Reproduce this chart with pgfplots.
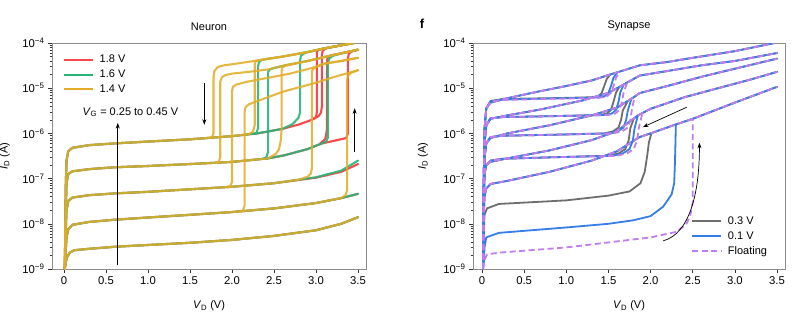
\documentclass[border=0pt]{standalone}
\usepackage{pgfplots}
\pgfplotsset{compat=1.18}
\usepackage{pgfplotstable}
\usepackage{fontspec}
\setmainfont{Liberation Sans}
\usetikzlibrary{arrows.meta}

\definecolor{cred}{RGB}{252,72,72}
\definecolor{cgreen}{RGB}{40,180,120}
\definecolor{cgold}{RGB}{225,172,38}
\definecolor{cgray}{RGB}{110,110,110}
\definecolor{cblue}{RGB}{55,125,230}
\definecolor{cpurple}{RGB}{192,125,235}

% ---------- Neuron panel: shared OFF branches ----------
\pgfplotstableread{
x y
0.01 1.0e-9
0.02 1.4e-9
0.04 1.9e-9
0.07 2.3e-9
0.12 2.6e-9
0.3 2.8e-9
0.6 3.1e-9
1.0 3.4e-9
1.5 3.8e-9
2.0 4.4e-9
2.5 5.4e-9
3.0 7.2e-9
3.3 1.0e-8
3.5 1.4e-8
}\offA
\pgfplotstableread{
x y
0.01 1.0e-9
0.02 2.5e-9
0.03 5.0e-9
0.05 7.6e-9
0.1 9.5e-9
0.3 1.1e-8
0.6 1.23e-8
1.0 1.38e-8
1.5 1.58e-8
2.0 1.82e-8
2.5 2.19e-8
3.0 2.88e-8
3.3 3.7e-8
3.5 4.6e-8
}\offB
\pgfplotstableread{
x y
0.01 1.0e-9
0.02 6.3e-9
0.03 2.0e-8
0.05 3.2e-8
0.1 3.8e-8
0.3 4.3e-8
0.6 4.7e-8
1.0 5.1e-8
1.5 5.8e-8
2.0 6.6e-8
2.5 7.9e-8
3.0 1.05e-7
3.3 1.41e-7
3.5 2.1e-7
}\offCred
\pgfplotstableread{
x y
0.01 1.0e-9
0.02 6.3e-9
0.03 2.0e-8
0.05 3.2e-8
0.1 3.8e-8
0.3 4.3e-8
0.6 4.7e-8
1.0 5.1e-8
1.5 5.8e-8
2.0 6.6e-8
2.5 7.9e-8
3.0 1.07e-7
3.3 1.5e-7
3.5 2.5e-7
}\offCgreen

% ---------- Synapse panel: ON / backward branches ----------
\pgfplotstableread{
x y
0.012 1.0e-9
0.02 1.0e-7
0.03 1.26e-6
0.05 3.55e-6
0.1 4.8e-6
0.3 6.0e-6
0.65 8.3e-6
1.0 1.12e-5
1.3 1.48e-5
1.5 1.95e-5
1.87 3.2e-5
2.2 3.8e-5
2.5 4.7e-5
3.0 6.6e-5
3.47 1.0e-4
}\sonA
\pgfplotstableread{
x y
0.012 1.0e-9
0.02 6.0e-8
0.03 6.0e-7
0.05 1.5e-6
0.1 2.1e-6
0.3 2.5e-6
0.7 3.4e-6
1.2 5.4e-6
1.5 7.9e-6
1.65 1.12e-5
1.87 1.9e-5
2.2 2.4e-5
2.6 3.2e-5
3.0 4.0e-5
3.5 6.0e-5
}\sonB
\pgfplotstableread{
x y
0.012 1.0e-9
0.02 4.0e-8
0.03 3.0e-7
0.05 6.0e-7
0.1 7.9e-7
0.3 1.0e-6
0.8 1.51e-6
1.3 2.5e-6
1.6 3.7e-6
1.8 6.3e-6
1.87 7.8e-6
2.2 1.12e-5
2.6 1.78e-5
3.0 2.7e-5
3.5 4.5e-5
}\sonC
\pgfplotstableread{
x y
0.012 1.0e-9
0.02 3.0e-8
0.03 1.3e-7
0.05 2.0e-7
0.1 2.35e-7
0.3 2.8e-7
0.8 4.2e-7
1.3 7.1e-7
1.6 1.12e-6
1.85 2.5e-6
2.0 3.5e-6
2.4 6.3e-6
2.8 1.0e-5
3.2 1.58e-5
3.5 2.3e-5
}\sonD
\pgfplotstableread{
x y
0.012 1.0e-9
0.02 1.5e-8
0.03 4.0e-8
0.05 6.0e-8
0.1 7.6e-8
0.3 8.9e-8
0.8 1.41e-7
1.3 2.5e-7
1.6 4.0e-7
1.87 8.3e-7
2.0 1.0e-6
2.3 1.58e-6
2.5 2.1e-6
3.0 4.8e-6
3.5 1.07e-5
}\sonE

\pgfplotsset{
  legend image code/.code={\draw[line width=2pt,#1] (0pt,0pt) -- (29pt,0pt); \path (33pt,0pt);},
  R/.style={cred, line width=2.1pt, line join=round, line cap=round, forget plot},
  G/.style={cgreen, opacity=0.9, line width=2.1pt, line join=round, line cap=round, forget plot},
  O/.style={cgold, opacity=0.85, line width=2.1pt, line join=round, line cap=round, forget plot},
  K/.style={cgray, line width=1.8pt, line join=round, line cap=round, forget plot},
  B/.style={cblue, line width=1.8pt, line join=round, line cap=round, forget plot},
  P/.style={cpurple, line width=1.8pt, dash pattern=on 6pt off 3.5pt, line join=round, forget plot},
}

\begin{document}
\begin{tikzpicture}
\useasboundingbox (0,0) rectangle (812pt,321pt);

% ======================= Neuron =======================
\begin{axis}[
    at={(52pt,52pt)}, anchor=south west,
    scale only axis, width=314pt, height=226pt,
    ymode=log, ymin=1e-9, ymax=1e-4,
    xmin=-0.143, xmax=3.595,
    xtick={0,0.5,1,1.5,2,2.5,3,3.5},
    xticklabels={0,0.5,1.0,1.5,2.0,2.5,3.0,3.5},
    ytick={1e-9,1e-8,1e-7,1e-6,1e-5,1e-4},
    yticklabels={10\textsuperscript{−9},10\textsuperscript{−8},10\textsuperscript{−7},10\textsuperscript{−6},10\textsuperscript{−5},10\textsuperscript{−4}},
    minor ytick={2e-9,3e-9,4e-9,5e-9,6e-9,7e-9,8e-9,9e-9,2e-8,3e-8,4e-8,5e-8,6e-8,7e-8,8e-8,9e-8,2e-7,3e-7,4e-7,5e-7,6e-7,7e-7,8e-7,9e-7,2e-6,3e-6,4e-6,5e-6,6e-6,7e-6,8e-6,9e-6,2e-5,3e-5,4e-5,5e-5,6e-5,7e-5,8e-5,9e-5},
    xtick pos=bottom, ytick pos=left, tick align=outside,
    major tick length=4pt, minor tick length=2.5pt,
    axis line style={black!45, line width=0.7pt},
    tick style={black!80, line width=0.5pt},
    tick label style={font=\fontsize{11.3}{12}\selectfont},
    title={Neuron},
    title style={at={(0.5,1)}, anchor=south, yshift=3pt, font=\fontsize{11}{13}\selectfont},
    xlabel={\textit{V}\textsubscript{D} (V)},
    xlabel style={at={(0.5,-0.162)}, anchor=center, font=\fontsize{11}{13}\selectfont},
    ylabel={\textit{I}\textsubscript{D} (A)},
    ylabel style={at={(-0.150,0.5)}, anchor=center, font=\fontsize{11}{13}\selectfont},
    legend cell align=left,
    legend style={draw=none, fill=none, at={(0.03,0.96)}, anchor=north west,
       font=\fontsize{11}{12}\selectfont, row sep=1.5pt, inner sep=1pt},
]
% ---- red 1.8 V ----
\addplot[R] table {\offA};
\addplot[R] table {\offB};
\addplot[R] table {\offCred};
\addplot[R] coordinates {(0.01,1e-9)(0.02,1.6e-8)(0.03,7.9e-8)(0.05,1.26e-7)(0.1,1.45e-7)(0.3,1.62e-7)(0.6,1.78e-7)(1.0,1.9e-7)(1.5,2.1e-7)(2.0,2.34e-7)(2.43,2.8e-7)(2.63,3.3e-7)(2.9,4.5e-7)(3.07,6.0e-7)(3.25,7.1e-7)(3.36,7.9e-7)(3.38,1.0e-6)(3.38,4.5e-5)(3.39,5.8e-5)(3.42,6.4e-5)(3.5,7.1e-5)};
\addplot[R] coordinates {(3.5,7.1e-5)(3.3,5.9e-5)(3.17,5.3e-5)(3.14,4.8e-5)(3.13,4.0e-5)(3.13,1.2e-6)(3.11,7.5e-7)(3.05,6.0e-7)};
\addplot[R] coordinates {(0.01,1e-9)(0.015,1e-8)(0.02,6.3e-8)(0.03,2.5e-7)(0.05,4.0e-7)(0.1,4.8e-7)(0.3,5.5e-7)(0.6,6.0e-7)(1.0,6.6e-7)(1.5,7.4e-7)(1.78,8.1e-7)(2.0,8.7e-7)(2.3,1.0e-6)(2.6,1.26e-6)(2.8,1.58e-6)(2.95,2.0e-6)(3.03,2.4e-6)(3.06,2.9e-6)(3.07,4e-6)(3.07,5.5e-5)(3.08,6.8e-5)(3.12,7.6e-5)(3.3,8.9e-5)(3.45,1.0e-4)};
\addplot[R] coordinates {(3.45,1e-4)(3.3,8.9e-5)(3.1,7.6e-5)(3.03,7.1e-5)(3.01,6.3e-5)(3.01,3e-6)(3.0,2.3e-6)(2.95,2.0e-6)};

% ---- green 1.6 V ----
\addplot[G] table {\offA};
\addplot[G] table {\offB};
\addplot[G] table {\offCgreen};
\addplot[G] coordinates {(0.01,1e-9)(0.02,1.6e-8)(0.03,7.9e-8)(0.05,1.26e-7)(0.1,1.45e-7)(0.3,1.62e-7)(0.6,1.78e-7)(1.0,1.9e-7)(1.5,2.1e-7)(2.0,2.34e-7)(2.43,2.8e-7)(2.63,3.3e-7)(2.9,4.5e-7)(3.07,6.0e-7)(3.12,6.6e-7)(3.14,8.0e-7)(3.14,3.5e-5)(3.16,4.6e-5)(3.2,5.2e-5)(3.3,5.9e-5)(3.5,7.1e-5)};
\addplot[G] coordinates {(3.5,7.1e-5)(3.3,5.9e-5)(3.1,4.9e-5)(2.9,4.0e-5)(2.63,3.2e-5)(2.5,2.8e-5)(2.45,2.6e-5)(2.43,2.3e-5)(2.43,4e-7)(2.41,3.0e-7)(2.37,2.75e-7)};
\addplot[G] coordinates {(0.01,1e-9)(0.015,1e-8)(0.02,6.3e-8)(0.03,2.5e-7)(0.05,4.0e-7)(0.1,4.8e-7)(0.3,5.5e-7)(0.6,6.0e-7)(1.0,6.6e-7)(1.5,7.4e-7)(1.78,8.1e-7)(2.0,8.7e-7)(2.3,1.0e-6)(2.6,1.26e-6)(2.72,1.6e-6)(2.79,2.2e-6)(2.81,2.9e-6)(2.81,4.0e-5)(2.82,5.2e-5)(2.86,5.9e-5)(2.9,6.3e-5)(3.1,7.6e-5)(3.3,8.9e-5)(3.45,1e-4)};
\addplot[G] coordinates {(3.45,1e-4)(3.3,8.9e-5)(3.1,7.6e-5)(2.9,6.3e-5)(2.6,5.0e-5)(2.4,4.4e-5)(2.34,4.1e-5)(2.32,3.7e-5)(2.31,3.0e-5)(2.31,1.3e-6)(2.29,1.02e-6)(2.25,9.7e-7)};

% ---- gold 1.4 V ----
\addplot[O] table {\offA};
\addplot[O] coordinates {(0.01,1e-9)(0.02,2.5e-9)(0.03,5e-9)(0.05,7.6e-9)(0.1,9.5e-9)(0.3,1.1e-8)(0.6,1.23e-8)(1.0,1.38e-8)(1.5,1.58e-8)(2.0,1.82e-8)(2.5,2.19e-8)(3.0,2.88e-8)(3.3,3.7e-8)(3.35,4.3e-8)(3.37,5.5e-8)(3.37,1.5e-5)(3.38,1.9e-5)(3.42,2.2e-5)(3.5,2.5e-5)};
\addplot[O] coordinates {(3.5,2.5e-5)(3.2,1.74e-5)(3.0,1.32e-5)(2.8,1.05e-5)(2.6,8.3e-6)(2.35,5.6e-6)(2.2,4.4e-6)(2.16,3.8e-6)(2.15,3.0e-6)(2.15,2.5e-8)(2.13,1.95e-8)(2.09,1.85e-8)};
\addplot[O] coordinates {(0.01,1e-9)(0.02,6.3e-9)(0.03,2e-8)(0.05,3.2e-8)(0.1,3.8e-8)(0.3,4.3e-8)(0.6,4.7e-8)(1.0,5.1e-8)(1.5,5.8e-8)(2.0,6.6e-8)(2.5,7.9e-8)(2.8,9.5e-8)(2.9,1.1e-7)(2.94,1.3e-7)(2.95,1.7e-7)(2.95,2.2e-5)(2.96,2.6e-5)(3.0,2.9e-5)(3.1,3.5e-5)(3.3,4.0e-5)(3.5,4.7e-5)};
\addplot[O] coordinates {(3.5,4.7e-5)(3.3,4.0e-5)(3.1,3.5e-5)(2.95,2.8e-5)(2.69,2.1e-5)(2.4,1.66e-5)(2.17,1.38e-5)(2.05,1.2e-5)(2.01,1.07e-5)(2.0,8.5e-6)(2.0,8.5e-8)(1.98,6.8e-8)(1.94,6.5e-8)};
\addplot[O] coordinates {(0.01,1e-9)(0.02,1.6e-8)(0.03,7.9e-8)(0.05,1.26e-7)(0.1,1.45e-7)(0.3,1.62e-7)(0.6,1.78e-7)(1.0,1.9e-7)(1.5,2.1e-7)(2.0,2.34e-7)(2.43,2.8e-7)(2.52,3.5e-7)(2.56,4.5e-7)(2.58,7e-7)(2.59,1.2e-6)(2.59,2.4e-5)(2.6,2.9e-5)(2.64,3.15e-5)(2.9,4.0e-5)(3.1,4.9e-5)(3.3,5.9e-5)(3.5,7.1e-5)};
\addplot[O] coordinates {(3.5,7.1e-5)(3.3,5.9e-5)(3.1,4.9e-5)(2.9,4.0e-5)(2.63,3.2e-5)(2.43,2.6e-5)(2.2,2.3e-5)(2.0,2.1e-5)(1.92,1.95e-5)(1.88,1.75e-5)(1.86,1.4e-5)(1.86,3.0e-7)(1.84,2.3e-7)(1.8,2.2e-7)};
\addplot[O] coordinates {(0.01,1e-9)(0.015,1e-8)(0.02,6.3e-8)(0.03,2.5e-7)(0.05,4.0e-7)(0.1,4.8e-7)(0.3,5.5e-7)(0.6,6.0e-7)(1.0,6.6e-7)(1.5,7.4e-7)(1.78,8.1e-7)(2.0,8.7e-7)(2.2,9.6e-7)(2.25,1.1e-6)(2.27,1.5e-6)(2.27,3.3e-5)(2.28,3.9e-5)(2.33,4.2e-5)(2.6,5.0e-5)(2.9,6.3e-5)(3.1,7.6e-5)(3.3,8.9e-5)(3.45,1e-4)};
\addplot[O] coordinates {(3.45,1e-4)(3.3,8.9e-5)(3.1,7.6e-5)(2.9,6.3e-5)(2.6,5.0e-5)(2.3,4.1e-5)(2.1,3.6e-5)(1.9,3.2e-5)(1.83,2.95e-5)(1.79,2.4e-5)(1.78,1.8e-5)(1.78,1.0e-6)(1.76,8.2e-7)(1.72,7.9e-7)};

\addlegendimage{cred, line width=2.1pt}\addlegendentry{1.8 V}
\addlegendimage{cgreen, line width=2.1pt}\addlegendentry{1.6 V}
\addlegendimage{cgold, line width=2.1pt}\addlegendentry{1.4 V}

% annotations
\draw[black, line width=0.7pt, -{Stealth[length=5.5pt,width=4pt]}] (axis cs:0.64,1.2e-9) -- (axis cs:0.64,1.7e-6);
\node[font=\fontsize{11}{12}\selectfont] at (axis cs:0.79,2.95e-6) {\textit{V}\textsubscript{G} = 0.25 to 0.45 V};
\draw[black, line width=0.7pt, -{Stealth[length=5.5pt,width=4pt]}] (axis cs:1.67,1.3e-5) -- (axis cs:1.67,1.55e-6);
\draw[black, line width=0.7pt, -{Stealth[length=5.5pt,width=4pt]}] (axis cs:3.46,3.9e-7) -- (axis cs:3.46,3.6e-6);
\end{axis}

% ======================= Synapse =======================
\begin{axis}[
    at={(473pt,52pt)}, anchor=south west,
    scale only axis, width=312pt, height=226pt,
    ymode=log, ymin=1e-9, ymax=1e-4,
    xmin=-0.107, xmax=3.595,
    xtick={0,0.5,1,1.5,2,2.5,3,3.5},
    xticklabels={0,0.5,1.0,1.5,2.0,2.5,3.0,3.5},
    ytick={1e-9,1e-8,1e-7,1e-6,1e-5,1e-4},
    yticklabels={10\textsuperscript{−9},10\textsuperscript{−8},10\textsuperscript{−7},10\textsuperscript{−6},10\textsuperscript{−5},10\textsuperscript{−4}},
    minor ytick={2e-9,3e-9,4e-9,5e-9,6e-9,7e-9,8e-9,9e-9,2e-8,3e-8,4e-8,5e-8,6e-8,7e-8,8e-8,9e-8,2e-7,3e-7,4e-7,5e-7,6e-7,7e-7,8e-7,9e-7,2e-6,3e-6,4e-6,5e-6,6e-6,7e-6,8e-6,9e-6,2e-5,3e-5,4e-5,5e-5,6e-5,7e-5,8e-5,9e-5},
    xtick pos=bottom, ytick pos=left, tick align=outside,
    major tick length=4pt, minor tick length=2.5pt,
    axis line style={black!45, line width=0.7pt},
    tick style={black!80, line width=0.5pt},
    tick label style={font=\fontsize{11.3}{12}\selectfont},
    title={Synapse},
    title style={at={(0.5,1)}, anchor=south, yshift=3pt, font=\fontsize{11}{13}\selectfont},
    xlabel={\textit{V}\textsubscript{D} (V)},
    xlabel style={at={(0.5,-0.162)}, anchor=center, font=\fontsize{11}{13}\selectfont},
    ylabel={\textit{I}\textsubscript{D} (A)},
    ylabel style={at={(-0.160,0.5)}, anchor=center, font=\fontsize{11}{13}\selectfont},
    legend cell align=left,
    legend style={draw=none, fill=none, at={(0.695,0.245)}, anchor=north west,
       font=\fontsize{11}{12}\selectfont, row sep=1.5pt, inner sep=1pt},
]
% ---- gray 0.3 V ----
\addplot[K] table {\sonA};
\addplot[K] table {\sonB};
\addplot[K] table {\sonC};
\addplot[K] table {\sonD};
\addplot[K] table {\sonE};
\addplot[K] coordinates {(0.012,1e-9)(0.02,1e-7)(0.03,1.26e-6)(0.05,3.55e-6)(0.1,5.2e-6)(0.25,5.8e-6)(0.8,6.0e-6)(1.3,6.3e-6)(1.38,6.6e-6)(1.42,7.9e-6)(1.45,1.12e-5)(1.48,1.6e-5)(1.52,2.0e-5)};
\addplot[K] coordinates {(0.012,1e-9)(0.02,6e-8)(0.03,6e-7)(0.05,1.5e-6)(0.1,2.15e-6)(0.25,2.3e-6)(0.8,2.4e-6)(1.4,2.55e-6)(1.48,2.75e-6)(1.53,3.3e-6)(1.56,5e-6)(1.59,8e-6)(1.63,1.07e-5)};
\addplot[K] coordinates {(0.012,1e-9)(0.02,4e-8)(0.03,3e-7)(0.05,6e-7)(0.1,8.3e-7)(0.25,8.9e-7)(0.8,9.3e-7)(1.45,1.0e-6)(1.55,1.1e-6)(1.62,1.35e-6)(1.65,2.0e-6)(1.67,3.2e-6)(1.72,4.8e-6)};
\addplot[K] coordinates {(0.012,1e-9)(0.02,3e-8)(0.03,1.3e-7)(0.05,2.0e-7)(0.1,2.5e-7)(0.25,2.75e-7)(0.8,2.95e-7)(1.5,3.2e-7)(1.62,3.6e-7)(1.7,4.5e-7)(1.74,7e-7)(1.76,1.3e-6)(1.8,2.1e-6)};
\addplot[K] coordinates {(0.012,1e-9)(0.02,6e-9)(0.03,1.6e-8)(0.06,2.2e-8)(0.2,2.75e-8)(1.0,3.3e-8)(1.5,4.2e-8)(1.75,5.2e-8)(1.88,7.9e-8)(1.93,1.4e-7)(1.96,3.2e-7)(1.98,6.3e-7)(2.01,1.0e-6)};

% ---- blue 0.1 V ----
\addplot[B] table {\sonA};
\addplot[B] table {\sonB};
\addplot[B] table {\sonC};
\addplot[B] table {\sonD};
\addplot[B] table {\sonE};
\addplot[B] coordinates {(0.012,1e-9)(0.02,1e-7)(0.03,1.26e-6)(0.05,3.55e-6)(0.1,5.1e-6)(0.25,5.6e-6)(0.8,5.9e-6)(1.35,6.2e-6)(1.45,6.5e-6)(1.5,7.9e-6)(1.53,1.12e-5)(1.56,1.7e-5)(1.6,2.2e-5)};
\addplot[B] coordinates {(0.012,1e-9)(0.02,6e-8)(0.03,6e-7)(0.05,1.5e-6)(0.1,2.15e-6)(0.25,2.3e-6)(0.8,2.4e-6)(1.45,2.55e-6)(1.54,2.75e-6)(1.59,3.3e-6)(1.62,5e-6)(1.64,8e-6)(1.68,1.2e-5)};
\addplot[B] coordinates {(0.012,1e-9)(0.02,4e-8)(0.03,3e-7)(0.05,6e-7)(0.1,8.3e-7)(0.25,8.9e-7)(0.8,9.3e-7)(1.5,1.0e-6)(1.61,1.1e-6)(1.68,1.35e-6)(1.71,2.0e-6)(1.73,3.2e-6)(1.77,5.6e-6)};
\addplot[B] coordinates {(0.012,1e-9)(0.02,3e-8)(0.03,1.3e-7)(0.05,2.0e-7)(0.1,2.5e-7)(0.25,2.75e-7)(0.8,2.95e-7)(1.55,3.2e-7)(1.67,3.6e-7)(1.75,4.5e-7)(1.79,7e-7)(1.81,1.3e-6)(1.85,2.5e-6)};
\addplot[B] coordinates {(0.012,1e-9)(0.02,1.5e-9)(0.03,3e-9)(0.05,5e-9)(0.2,6.3e-9)(1.0,8.3e-9)(1.5,1.0e-8)(1.8,1.2e-8)(2.0,1.48e-8)(2.15,2.4e-8)(2.25,4.5e-8)(2.28,7.9e-8)(2.29,2.5e-7)(2.3,1.5e-6)};

% ---- purple floating ----
\addplot[P] table {\sonA};
\addplot[P] table {\sonB};
\addplot[P] table {\sonC};
\addplot[P] table {\sonD};
\addplot[P] table {\sonE};
\addplot[P] coordinates {(0.012,1e-9)(0.02,1e-7)(0.03,1.26e-6)(0.05,3.55e-6)(0.1,5.0e-6)(0.25,5.5e-6)(0.8,5.8e-6)(1.38,6.1e-6)(1.48,6.5e-6)(1.53,7.9e-6)(1.56,1.12e-5)(1.59,1.7e-5)(1.63,2.3e-5)};
\addplot[P] coordinates {(0.012,1e-9)(0.02,6e-8)(0.03,6e-7)(0.05,1.5e-6)(0.1,2.15e-6)(0.25,2.3e-6)(0.8,2.4e-6)(1.5,2.55e-6)(1.58,2.75e-6)(1.63,3.3e-6)(1.66,5e-6)(1.68,8e-6)(1.72,1.3e-5)};
\addplot[P] coordinates {(0.012,1e-9)(0.02,4e-8)(0.03,3e-7)(0.05,6e-7)(0.1,8.3e-7)(0.25,8.9e-7)(0.8,9.3e-7)(1.55,1.0e-6)(1.66,1.1e-6)(1.73,1.35e-6)(1.76,2.0e-6)(1.78,3.5e-6)(1.81,6.4e-6)};
\addplot[P] coordinates {(0.012,1e-9)(0.02,3e-8)(0.03,1.3e-7)(0.05,2.0e-7)(0.1,2.5e-7)(0.25,2.75e-7)(0.8,2.95e-7)(1.6,3.2e-7)(1.72,3.6e-7)(1.8,4.5e-7)(1.84,7e-7)(1.86,1.3e-6)(1.9,2.7e-6)};
\addplot[P] coordinates {(0.015,1e-9)(0.03,1.6e-9)(0.06,2.1e-9)(0.2,2.3e-9)(1.0,3.0e-9)(2.0,5.0e-9)(2.3,6.6e-9)(2.42,9.5e-9)(2.47,1.5e-8)(2.5,3.0e-8)(2.5,2.1e-6)};

\addlegendimage{cgray, line width=1.8pt}\addlegendentry{0.3 V}
\addlegendimage{cblue, line width=1.8pt}\addlegendentry{0.1 V}
\addlegendimage{cpurple, line width=1.8pt, dash pattern=on 6pt off 3.5pt}\addlegendentry{Floating}

% annotations
\draw[black, line width=0.7pt, -{Stealth[length=5.5pt,width=4pt]}] (axis cs:2.43,3.8e-6) -- (axis cs:1.91,1.38e-6);
\draw[black, line width=0.7pt, -{Stealth[length=5.5pt,width=4pt]}] (axis cs:2.15,4.2e-9) .. controls (axis cs:2.45,6e-9) and (axis cs:2.58,4e-8) .. (axis cs:2.58,6.2e-7);
\end{axis}

\node[font=\bfseries\fontsize{13}{13}\selectfont] at (422pt,297pt) {f};
\end{tikzpicture}
\end{document}
